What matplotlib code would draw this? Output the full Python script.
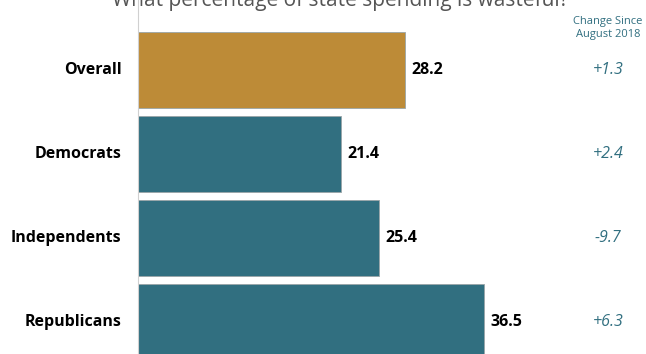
import matplotlib
matplotlib.use("Agg")
from matplotlib import pyplot as plt

groups = ['Overall', 'Democrats', 'Independents', 'Republicans']
values = [28.2, 21.4, 25.4, 36.5]
changes = ['+1.3', '+2.4', '-9.7', '+6.3']
colors = ['#BD8B37', '#316F80', '#316F80', '#316F80']

plt.rcParams['font.family'] = ['Open Sans', 'DejaVu Sans']

fig = plt.figure(figsize=(6.46, 3.54), dpi=100)
W, H = 646, 354
ax = fig.add_axes([138 / W, 0, (W - 138) / W, 1])

ypos = range(len(groups))
ax.barh(ypos, values, height=0.915, color=colors, edgecolor='#9aa5a8', linewidth=0.6)

ax.set_xlim(0, (W - 138) / 9.48)
ax.set_ylim(-0.833 + H / 84, -0.833)

# value labels at bar ends
for y, v in zip(ypos, values):
    ax.annotate(f'{v:.1f}', xy=(v, y), xytext=(4.5, 0), textcoords='offset points',
                va='center', ha='left', fontsize=11.5, fontweight='bold', color='black')

# group names on the left
for y, g in zip(ypos, groups):
    ax.annotate(g, xy=(0, y), xytext=(-12, 0), textcoords='offset points',
                va='center', ha='right', fontsize=11.5, fontweight='bold', color='black')

# change column
for y, c in zip(ypos, changes):
    ax.text(608 / W, 1 - (70 + 84 * y) / H, c, transform=fig.transFigure,
            ha='center', va='center', fontsize=11.5, style='italic', color='#316F80')

fig.text(608 / W, 1 - 28 / H, 'Change Since\nAugust 2018', ha='center', va='center',
         fontsize=8, color='#316F80', linespacing=1.25)

# title, cut off at the top like the original
fig.text(340 / W, 1 - 6 / H, 'What percentage of state spending is wasteful?',
         ha='center', va='baseline', fontsize=15, color='#555555')

for s in ['top', 'right', 'bottom']:
    ax.spines[s].set_visible(False)
ax.spines['left'].set_color('#d0d0d0')
ax.set_xticks([])
ax.set_yticks([])

fig.savefig('out.png', dpi=100)
